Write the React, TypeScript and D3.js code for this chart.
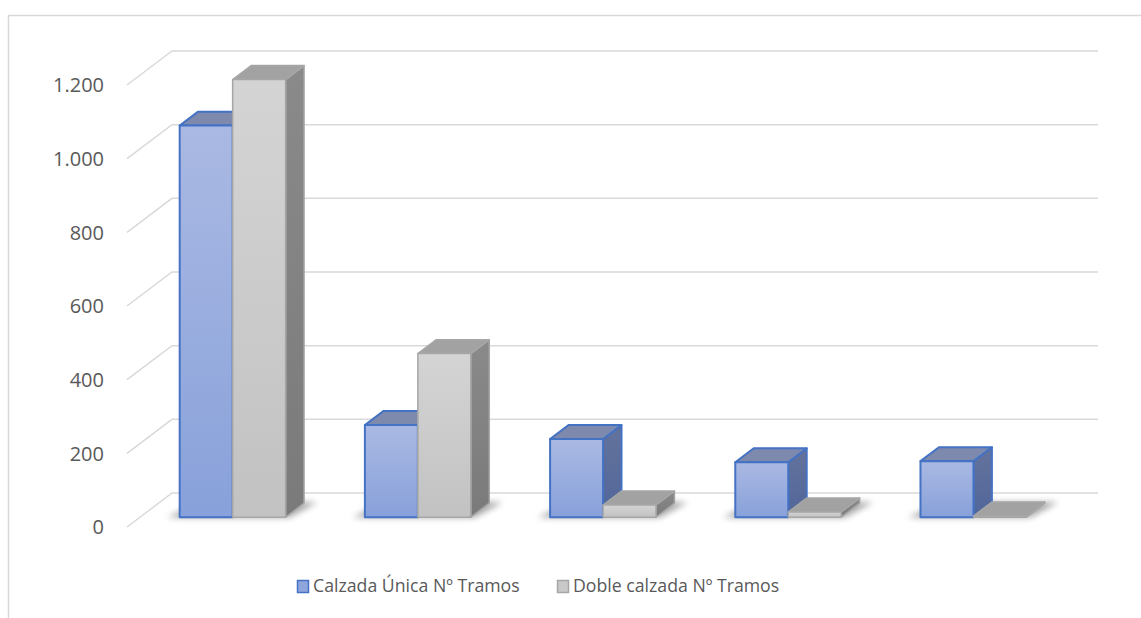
import * as d3 from "d3";

const categories = ["Tramo 1", "Tramo 2", "Tramo 3", "Tramo 4", "Tramo 5"];
const seriesNames = ["Calzada Única Nº Tramos", "Doble calzada Nº Tramos"];
const calzadaUnica = [1063, 250, 212, 149, 152];
const dobleCalzada = [1188, 444, 33, 14, 3];
const yTicks = [0, 200, 400, 600, 800, 1000, 1200];

const W = 1141;
const H = 618;
// depth of the floor in px (perspective offset of the back wall)
const DX = 45;
const DY = 34;
const dFront = 0.29;
const dBack = 0.7;

const fmt = d3
  .formatLocale({ decimal: ",", thousands: ".", grouping: [3], currency: ["", "€"] })
  .format(",");

const styles = [
  {
    front: "gFrontBlue",
    top: "#7D8AAE",
    side: "gSideBlue",
    stroke: "#4472C4",
    sw: 2,
    swatch: "#8FA6DC",
  },
  {
    front: "gFrontGray",
    top: "#A2A2A2",
    side: "gSideGray",
    stroke: "#A6A6A6",
    sw: 1.5,
    swatch: "#C9C9C9",
  },
];

export default function App() {
  const y = d3.scaleLinear().domain([0, 1200]).range([527, 85]);
  const x = d3.scaleBand().domain(categories).range([127, 1053]);
  const barW = x.bandwidth() * 0.286;
  const pad = (x.bandwidth() - 2 * barW) / 2;

  const pt = (px: number, v: number, d: number) => [px + DX * d, y(v) - DY * d];
  const poly = (pts: number[][]) => pts.map((p) => p.join(",")).join(" ");

  const series = [calzadaUnica, dobleCalzada];

  const bars: JSX.Element[] = [];
  const shadows: JSX.Element[] = [];
  categories.forEach((c, i) => {
    const x0 = (x(c) as number) + pad;
    // floor shadow for the pair
    shadows.push(
      <polygon
        key={"sh" + i}
        points={poly([
          pt(x0 - 12, 0, dFront - 0.01),
          pt(x0 + 2 * barW + 4, 0, dFront - 0.01),
          pt(x0 + 2 * barW + 12, 0, dBack + 0.03),
          pt(x0, 0, dBack + 0.03),
        ])}
        fill="#000"
        opacity={0.35}
        filter="url(#blur)"
      />
    );
    series.forEach((vals, s) => {
      const st = styles[s];
      const v = vals[i];
      const xl = x0 + s * barW;
      const xr = xl + barW;
      const fbl = pt(xl, 0, dFront);
      const fbr = pt(xr, 0, dFront);
      const ftl = pt(xl, v, dFront);
      const ftr = pt(xr, v, dFront);
      const btl = pt(xl, v, dBack);
      const btr = pt(xr, v, dBack);
      const bbr = pt(xr, 0, dBack);
      bars.push(
        <g key={c + s} stroke={st.stroke} strokeWidth={st.sw} strokeLinejoin="round">
          <polygon points={poly([fbr, ftr, btr, bbr])} fill={`url(#${st.side})`} />
          <polygon points={poly([ftl, ftr, btr, btl])} fill={st.top} />
          <polygon points={poly([fbl, fbr, ftr, ftl])} fill={`url(#${st.front})`} />
        </g>
      );
    });
  });

  return (
    <svg
      width={W}
      height={H}
      style={{ position: "absolute", left: 0, top: 0, background: "#fff" }}
      fontFamily="'Open Sans', sans-serif"
    >
      <defs>
        <linearGradient id="gFrontBlue" x1="0" y1="0" x2="0" y2="1">
          <stop offset="0" stopColor="#AAB9E3" />
          <stop offset="1" stopColor="#88A1DA" />
        </linearGradient>
        <linearGradient id="gSideBlue" x1="0" y1="0" x2="0" y2="1">
          <stop offset="0" stopColor="#64739C" />
          <stop offset="1" stopColor="#51669A" />
        </linearGradient>
        <linearGradient id="gFrontGray" x1="0" y1="0" x2="0" y2="1">
          <stop offset="0" stopColor="#D4D4D4" />
          <stop offset="1" stopColor="#C2C2C2" />
        </linearGradient>
        <linearGradient id="gSideGray" x1="0" y1="0" x2="0" y2="1">
          <stop offset="0" stopColor="#8A8A8A" />
          <stop offset="1" stopColor="#7A7A7A" />
        </linearGradient>
        <filter id="blur" x="-30%" y="-100%" width="160%" height="300%">
          <feGaussianBlur stdDeviation="3" />
        </filter>
      </defs>

      {/* chart area border */}
      <rect x={8.5} y={15.5} width={1200} height={700} fill="none" stroke="#D9D9D9" strokeWidth={1.5} />

      {/* gridlines: diagonal side wall + back wall */}
      {yTicks.map((t) => {
        const a = pt(127, t, 0);
        const b = pt(127, t, 1);
        return (
          <polyline
            key={"g" + t}
            points={poly([a, b, [1098, b[1]]])}
            fill="none"
            stroke="#D9D9D9"
            strokeWidth={1.5}
          />
        );
      })}

      {/* axis labels */}
      {yTicks.map((t) => (
        <text
          key={"t" + t}
          x={104}
          y={y(t) + 2}
          textAnchor="end"
          dominantBaseline="middle"
          fontSize={20}
          fill="#595959"
        >
          {fmt(t)}
        </text>
      ))}

      {shadows}
      {bars}

      {/* legend */}
      {seriesNames.map((n, s) => {
        const lx = s === 0 ? 297 : 557;
        return (
          <g key={n}>
            <rect
              x={lx + 0.5}
              y={580.5}
              width={11}
              height={12}
              fill={styles[s].swatch}
              stroke={styles[s].stroke}
              strokeWidth={1.5}
            />
            <text x={lx + 16} y={587} dominantBaseline="middle" fontSize={17.7} fill="#595959">
              {n}
            </text>
          </g>
        );
      })}
    </svg>
  );
}
